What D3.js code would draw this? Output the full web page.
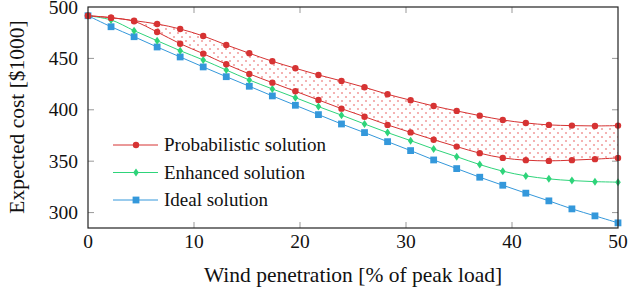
<!DOCTYPE html>
<html>
<head>
<meta charset="utf-8">
<script src="https://cdn.jsdelivr.net/npm/d3@7"></script>
<style>
  body { margin: 0; background: #fff; }
  svg text { font-family: 'Liberation Serif', 'DejaVu Serif', serif; }
</style>
</head>
<body>
<div class="chart"></div>
<script>
// wind penetration, 24 steps from 0 to 50
var windSteps = d3.range(24);
var xTicks = [0, 10, 20, 30, 40, 50];
var yTicks = [300, 350, 400, 450, 500];

var probUpper = [491.5, 489.6, 486.7, 483.5, 478.6, 471.8, 463.1, 455.0, 447.2, 440.4, 433.9, 428.1,
    421.9, 415.1, 409.3, 403.7, 398.9, 394.3, 390.1, 387.2, 385.3, 384.6, 384.3, 384.6];
var probLower = [491.5, 489.6, 486.1, 475.7, 464.3, 454.6, 444.3, 434.9, 426.4, 418.0, 409.6, 401.1,
    393.3, 385.3, 378.0, 370.9, 364.2, 357.8, 353.2, 351.0, 350.3, 351.0, 352.0, 353.2];
var enhanced = [491.5, 487.4, 477.0, 467.2, 457.5, 448.5, 438.7, 429.0, 420.3, 411.8, 403.1, 394.8,
    386.2, 377.8, 370.0, 361.9, 354.4, 346.7, 340.3, 335.7, 332.8, 331.1, 330.1, 329.6];
var ideal = [491.5, 480.8, 471.1, 461.1, 451.4, 441.7, 432.2, 422.9, 413.5, 404.4, 395.3, 386.2,
    377.8, 369.0, 360.3, 351.2, 342.8, 334.4, 326.6, 318.9, 311.4, 303.6, 296.8, 290.0];

var legendNames = ["Probabilistic solution", "Enhanced solution", "Ideal solution"];

var red = "#d63333", green = "#2ed47a", blue = "#3498db";
var serif = "Liberation Serif, DejaVu Serif, serif";

var margins = { top: 7, left: 88, right: 10, bottom: 69 };
var width = 628 - margins.left - margins.right;
var height = 297 - margins.top - margins.bottom;

var svg = d3.select('.chart')
    .append('svg')
    .attr('width', 628)
    .attr('height', 297);

var defs = svg.append('defs');
var pat = defs.append('pattern')
    .attr('id', 'dots')
    .attr('patternUnits', 'userSpaceOnUse')
    .attr('width', 8)
    .attr('height', 8);
pat.append('circle').attr('cx', 2).attr('cy', 2).attr('r', 1.1).attr('fill', '#f2a0a0');
pat.append('circle').attr('cx', 6).attr('cy', 6).attr('r', 1.1).attr('fill', '#f2a0a0');

var g = svg.append('g')
    .attr('transform', 'translate(' + margins.left + ',' + margins.top + ')');

var xScale = d3.scaleLinear().domain([0, 50]).range([0, width]);
var yScale = d3.scaleLinear().domain([285, 500]).range([height, 0]);
var xOf = function (i) { return xScale(i * 50 / 23); };

// band between the two probabilistic curves
var area = d3.area()
    .curve(d3.curveCatmullRom)
    .x(function (d, i) { return xOf(i); })
    .y0(function (d, i) { return yScale(probLower[i]); })
    .y1(function (d, i) { return yScale(d); });

g.append('path')
    .datum(probUpper)
    .attr('d', area)
    .attr('fill', 'url(#dots)');

// ticks (inward, mirrored)
var tickCol = '#999';
xTicks.forEach(function (t) {
    if (t === 0 || t === 50) return;
    g.append('line').attr('x1', xScale(t)).attr('x2', xScale(t))
        .attr('y1', height).attr('y2', height - 6).attr('stroke', tickCol);
    g.append('line').attr('x1', xScale(t)).attr('x2', xScale(t))
        .attr('y1', 0).attr('y2', 6).attr('stroke', tickCol);
});
yTicks.forEach(function (t) {
    if (t === 500) return;
    g.append('line').attr('x1', 0).attr('x2', 6)
        .attr('y1', yScale(t)).attr('y2', yScale(t)).attr('stroke', tickCol);
    g.append('line').attr('x1', width).attr('x2', width - 6)
        .attr('y1', yScale(t)).attr('y2', yScale(t)).attr('stroke', tickCol);
});

var line = d3.line()
    .curve(d3.curveCatmullRom)
    .x(function (d, i) { return xOf(i); })
    .y(function (d) { return yScale(d); });

var series = [
    { data: ideal, color: blue, mark: 'square' },
    { data: enhanced, color: green, mark: 'diamond' },
    { data: probLower, color: red, mark: 'circle' },
    { data: probUpper, color: red, mark: 'circle' }
];

function drawMark(sel, mark, color, x, y) {
    if (mark === 'circle') {
        sel.append('circle').attr('cx', x).attr('cy', y).attr('r', 3.2).attr('fill', color);
    } else if (mark === 'square') {
        sel.append('rect').attr('x', x - 3.4).attr('y', y - 3.4)
            .attr('width', 6.8).attr('height', 6.8).attr('fill', color);
    } else {
        sel.append('path')
            .attr('d', 'M' + x + ',' + (y - 4) + 'L' + (x + 2.8) + ',' + y + 'L' + x + ',' + (y + 4) + 'L' + (x - 2.8) + ',' + y + 'Z')
            .attr('fill', color);
    }
}

series.forEach(function (s) {
    g.append('path')
        .datum(s.data)
        .attr('d', line)
        .attr('fill', 'none')
        .attr('stroke', s.color)
        .attr('stroke-width', 1);
});
series.forEach(function (s) {
    var mg = g.append('g');
    s.data.forEach(function (d, i) {
        drawMark(mg, s.mark, s.color, xOf(i), yScale(d));
    });
});

// frame
g.append('rect')
    .attr('width', width).attr('height', height)
    .attr('fill', 'none').attr('stroke', '#222').attr('stroke-width', 1.2);

// tick labels
xTicks.forEach(function (t) {
    g.append('text').attr('x', xScale(t)).attr('y', height + 20)
        .attr('font-family', serif)
        .attr('text-anchor', 'middle').attr('font-size', 19.5).attr('fill', '#111').text(t);
});
yTicks.forEach(function (t) {
    g.append('text').attr('x', -10).attr('y', yScale(t) + 6.5)
        .attr('font-family', serif)
        .attr('text-anchor', 'end').attr('font-size', 19.5).attr('fill', '#111').text(t);
});

// axis titles
svg.append('text')
    .attr('x', margins.left + width / 2).attr('y', 282)
    .attr('font-family', serif)
    .attr('text-anchor', 'middle').attr('font-size', 21.5).attr('fill', '#111')
    .text('Wind penetration [% of peak load]');
svg.append('text')
    .attr('transform', 'translate(24,117) rotate(-90)')
    .attr('font-family', serif)
    .attr('text-anchor', 'middle').attr('font-size', 21.5).attr('fill', '#111')
    .text('Expected cost [$1000]');

// legend
var legColors = [red, green, blue];
var legMarks = ['circle', 'diamond', 'square'];
legendNames.forEach(function (name, i) {
    var y = 145 + i * 27.5;
    svg.append('line').attr('x1', 113).attr('x2', 158).attr('y1', y).attr('y2', y)
        .attr('stroke', legColors[i]).attr('stroke-width', 1);
    drawMark(svg, legMarks[i], legColors[i], 136, y);
    svg.append('text').attr('x', 164).attr('y', y + 6)
        .attr('font-family', serif)
        .attr('font-size', 19).attr('fill', '#111').text(name);
});
</script>
</body>
</html>
